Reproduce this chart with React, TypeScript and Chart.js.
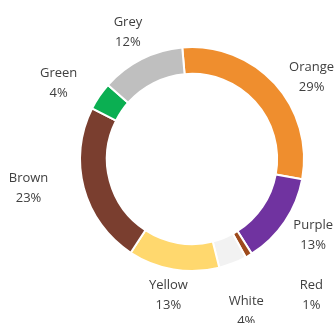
import React, { useEffect, useRef } from "react";
import { Chart, registerables } from "chart.js";

Chart.register(...registerables);

const categories = ["Orange", "Purple", "Red", "White", "Yellow", "Brown", "Green", "Grey"];
const values = [29, 13, 1, 4, 13, 23, 4, 12];
const percentLabels = ["29%", "13%", "1%", "4%", "13%", "23%", "4%", "12%"];
const sliceColors = ["#EF8E2E", "#7033A0", "#9E4A1C", "#F2F2F2", "#FFD86E", "#7A3E2F", "#0BAF52", "#BFBFBF"];
// label placement relative to each arc: [angle nudge in degrees, distance as multiple of outer radius]
const labelPlacement: [number, number][] = [
  [7.8, 1.295],
  [-2, 1.277],
  [-10.8, 1.616],
  [1.8, 1.446],
  [0.3, 1.232],
  [5, 1.482],
  [-4.4, 1.371],
  [0, 1.268],
];

const outsideLabels = {
  id: "outsideLabels",
  afterDatasetsDraw(chart: any) {
    const ctx = chart.ctx;
    const meta = chart.getDatasetMeta(0);
    ctx.save();
    ctx.font = "13px 'Open Sans', 'Noto Sans', sans-serif";
    ctx.fillStyle = "#404040";
    ctx.textAlign = "center";
    ctx.textBaseline = "middle";
    meta.data.forEach((arc: any, i: number) => {
      const p = arc.getProps(["x", "y", "startAngle", "endAngle", "outerRadius"], true);
      const [nudge, factor] = labelPlacement[i];
      const mid = (p.startAngle + p.endAngle) / 2 + (nudge * Math.PI) / 180;
      const r = p.outerRadius * factor;
      const cx = p.x + Math.cos(mid) * r;
      const cy = p.y + Math.sin(mid) * r;
      ctx.fillText(categories[i], cx, cy - 10);
      ctx.fillText(percentLabels[i], cx, cy + 10);
    });
    ctx.restore();
  },
};

export default function App() {
  const ref = useRef<HTMLCanvasElement | null>(null);
  useEffect(() => {
    if (!ref.current) return;
    const chart = new Chart(ref.current, {
      type: "doughnut",
      data: {
        labels: categories,
        datasets: [
          {
            data: values,
            backgroundColor: sliceColors,
            borderColor: "#FFFFFF",
            borderWidth: 2,
          },
        ],
      },
      options: {
        responsive: false,
        animation: false,
        rotation: -5,
        cutout: "76%",
        layout: { padding: { left: 79, right: 31, top: 46, bottom: 51 } },
        plugins: {
          legend: { display: false },
          tooltip: { enabled: false },
        },
      },
      plugins: [outsideLabels],
    });
    return () => chart.destroy();
  }, []);
  return (
    <div style={{ position: "fixed", left: 0, top: 0, width: 336, height: 323, background: "#fff" }}>
      <canvas ref={ref} width={336} height={323} />
    </div>
  );
}
